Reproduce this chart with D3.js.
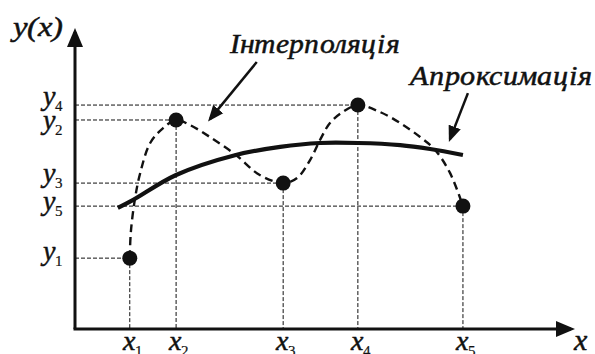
<!doctype html>
<html lang="uk">
<head>
  <meta charset="utf-8">
  <title>Інтерполяція / Апроксимація</title>
  <style>
    @font-face {
      font-family: "RefItalic";
      src: local("Liberation Serif Italic"), local("LiberationSerif-Italic"),
           local("DejaVu Serif Italic"), local("DejaVuSerif-Italic");
    }
    @font-face {
      font-family: "RefSerif";
      src: local("Liberation Serif"), local("LiberationSerif"),
           local("DejaVu Serif"), local("DejaVuSerif");
    }
    body { margin: 0; background: #fff; }
    .guide { stroke: #111; stroke-width: 1; stroke-dasharray: 4,2; fill: none; }
    .interp { stroke: #111; stroke-width: 2.4; stroke-dasharray: 8,5; fill: none; }
    .approx { stroke: #111; stroke-width: 4.2; fill: none; }
    .axis { stroke: #111; stroke-width: 3; fill: none; }
    .pointer { stroke: #111; stroke-width: 2.5; fill: none; }
    .lbl { font-family: "RefItalic", "RefSerif", serif; fill: #111; stroke: #111; stroke-width: 0.5; }
    .sub { font-family: "RefSerif", serif; stroke-width: 0.2; }
  </style>
</head>
<body>
<svg width="595" height="354"></svg>
<script src="https://d3js.org/d3.v7.min.js"></script>
<script>
  // nodes x1..x5 / y1..y5 (arbitrary units 0..100)
  var nodeX = [11, 20.3, 41.8, 56.8, 77.9];
  var nodeY = [23.7, 69.9, 48.8, 74.9, 41.1];
  var nodeIdx = ["1", "2", "3", "4", "5"];

  // dashed interpolation curve
  var interpX = [11, 11.2, 12, 13.1, 15.1, 17.7, 20.3, 23.1, 27.1, 32.3, 37.1, 41.8,
                 44.6, 47.2, 49.2, 51.2, 53.8, 56.8, 61.2, 65.3, 69.3, 72.3, 75.3, 77.9];
  var interpY = [23.7, 32.1, 43.1, 52.2, 62.2, 67.2, 69.9, 68.2, 64.2, 58.2, 51.5, 48.8,
                 50.5, 56.5, 63.2, 68.9, 72.6, 74.9, 72.6, 68.9, 64.2, 59.9, 52.2, 41.1];

  // solid approximation curve
  var approxX = [8.6, 11.6, 20.3, 32.3, 41.2, 49.2, 56.8, 65.3, 71.3, 77.9];
  var approxY = [40.5, 43.1, 51.5, 58.2, 60.9, 62.2, 62.2, 61.5, 60.2, 58.2];

  var svg = d3.select("svg");

  var x = d3.scaleLinear().domain([0, 100]).range([75, 573]);
  var y = d3.scaleLinear().domain([0, 100]).range([329, 30]);

  var defs = svg.append("defs");
  defs.append("marker")
    .attr("id", "axisHead")
    .attr("markerUnits", "userSpaceOnUse")
    .attr("viewBox", "0 -9 20 18")
    .attr("markerWidth", 20).attr("markerHeight", 18)
    .attr("refX", 15).attr("refY", 0)
    .attr("orient", "auto")
    .append("path").attr("d", "M0,-8L19,0L0,8Z").attr("fill", "#111");
  defs.append("marker")
    .attr("id", "pointHead")
    .attr("markerUnits", "userSpaceOnUse")
    .attr("viewBox", "0 -7 17 14")
    .attr("markerWidth", 17).attr("markerHeight", 14)
    .attr("refX", 13).attr("refY", 0)
    .attr("orient", "auto")
    .append("path").attr("d", "M0,-6.5L16,0L0,6.5Z").attr("fill", "#111");

  // guide lines
  var nodes = nodeX.map(function (d, i) { return { x: d, y: nodeY[i], k: nodeIdx[i] }; });
  var guides = svg.append("g");
  guides.selectAll(".h").data(nodes).enter().append("line")
    .attr("class", "guide")
    .attr("x1", x(0)).attr("x2", function (d) { return x(d.x); })
    .attr("y1", function (d) { return y(d.y); }).attr("y2", function (d) { return y(d.y); });
  guides.selectAll(".v").data(nodes).enter().append("line")
    .attr("class", "guide")
    .attr("x1", function (d) { return x(d.x); }).attr("x2", function (d) { return x(d.x); })
    .attr("y1", function (d) { return y(d.y); }).attr("y2", y(0));

  // axes
  svg.append("line").attr("class", "axis")
    .attr("x1", x(0)).attr("y1", y(0)).attr("x2", x(0)).attr("y2", y(100) + 2)
    .attr("marker-end", "url(#axisHead)");
  svg.append("line").attr("class", "axis")
    .attr("x1", x(0) - 1.5).attr("y1", y(0)).attr("x2", x(100) - 2).attr("y2", y(0))
    .attr("marker-end", "url(#axisHead)");

  // curves
  var line = d3.line()
    .x(function (d) { return x(d[0]); })
    .y(function (d) { return y(d[1]); })
    .curve(d3.curveCatmullRom.alpha(0.5));

  svg.append("path").attr("class", "interp")
    .attr("d", line(interpX.map(function (d, i) { return [d, interpY[i]]; })));
  svg.append("path").attr("class", "approx")
    .attr("d", line(approxX.map(function (d, i) { return [d, approxY[i]]; })));

  svg.append("g").selectAll("circle").data(nodes).enter().append("circle")
    .attr("cx", function (d) { return x(d.x); })
    .attr("cy", function (d) { return y(d.y); })
    .attr("r", 7.5)
    .attr("fill", "#111");

  var labels = svg.append("g").attr("class", "lbl");

  // tick labels
  var yNudge = [2, 9, -1, 0, 4];
  var yl = labels.append("g").selectAll("text").data(nodes).enter().append("text")
    .attr("x", 63)
    .attr("y", function (d, i) { return y(d.y) + yNudge[i]; })
    .attr("text-anchor", "end")
    .attr("font-size", 28);
  yl.append("tspan").text("y");
  yl.append("tspan").attr("class", "sub").attr("font-size", 15).attr("dy", 6)
    .text(function (d) { return d.k; });

  var xl = labels.append("g").selectAll("text").data(nodes).enter().append("text")
    .attr("x", function (d) { return x(d.x) - 7; })
    .attr("y", 350)
    .attr("font-size", 28);
  xl.append("tspan").text("x");
  xl.append("tspan").attr("class", "sub").attr("font-size", 15).attr("dy", 6)
    .text(function (d) { return d.k; });

  labels.append("text").attr("x", 574).attr("y", 350).attr("font-size", 30).text("x");
  labels.append("text").attr("x", 13).attr("y", 36).attr("font-size", 28)
    .attr("textLength", 49).attr("lengthAdjust", "spacingAndGlyphs").text("y(x)");

  // annotations
  svg.append("line").attr("class", "pointer")
    .attr("x1", x(36.5)).attr("y1", y(89.3)).attr("x2", x(27.1)).attr("y2", y(69.2) - 3)
    .attr("marker-end", "url(#pointHead)");
  svg.append("line").attr("class", "pointer")
    .attr("x1", x(78.9)).attr("y1", y(78.9)).attr("x2", x(75.3)).attr("y2", y(62.5) - 3)
    .attr("marker-end", "url(#pointHead)");

  labels.append("text").attr("x", x(31.1)).attr("y", y(92.3)).attr("font-size", 27)
    .attr("textLength", 170).attr("lengthAdjust", "spacingAndGlyphs").text("Інтерполяція");
  labels.append("text").attr("x", x(67.3)).attr("y", y(81.6)).attr("font-size", 27)
    .attr("textLength", 182).attr("lengthAdjust", "spacingAndGlyphs").text("Апроксимація");
</script>
</body>
</html>
